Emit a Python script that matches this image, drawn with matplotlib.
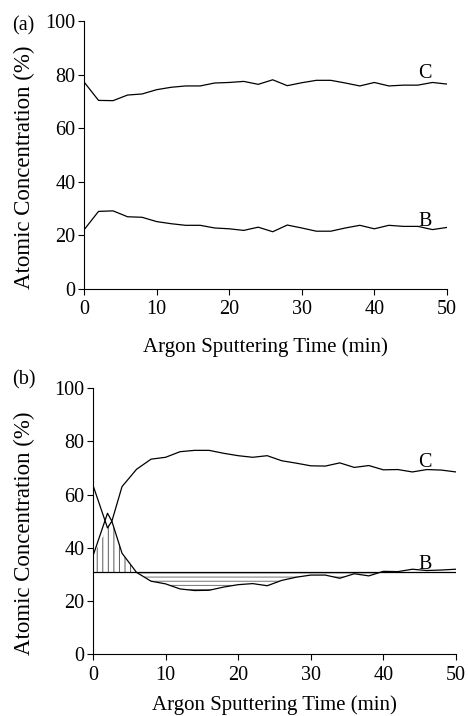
import numpy as np
import matplotlib.pyplot as plt

plt.rcParams['font.family'] = ['Liberation Serif', 'DejaVu Serif']
plt.rcParams['hatch.linewidth'] = 0.7

# (a) datos del panel superior
tiempo_a = [0, 2, 4, 6, 8, 10, 12, 14, 16, 18, 20, 22, 24, 26, 28, 30,
            32, 34, 36, 38, 40, 42, 44, 46, 48, 50]
c_a = [77.4, 70.5, 70.4, 72.5, 72.9, 74.5, 75.4, 75.9, 75.9, 77.0, 77.2, 77.6, 76.5,
       78.2, 76.0, 77.1, 78.0, 78.0, 77.0, 75.9, 77.2, 75.9, 76.2, 76.2, 77.2, 76.6]
b_a = [22.1, 29.0, 29.2, 27.0, 26.8, 25.2, 24.4, 23.8, 23.8, 22.8, 22.5, 21.9, 23.1,
       21.4, 23.9, 22.8, 21.6, 21.6, 22.8, 23.8, 22.5, 23.8, 23.4, 23.4, 22.2, 23.0]

# (b) datos del panel inferior
tiempo_b = [0, 2, 2.6, 4, 6, 8, 10, 12, 14, 16, 18, 20, 22, 24, 26, 28, 30,
            32, 34, 36, 38, 40, 42, 44, 46, 48, 50]
c_b = [37.0, 53.0, 50.0, 63.0, 69.5, 73.3, 74.0, 76.1, 76.6, 76.6, 75.5, 74.6, 74.0,
       74.6, 72.7, 71.8, 70.8, 70.7, 71.9, 70.2, 70.9, 69.3, 69.4, 68.5, 69.4, 69.2, 68.5]
b_b = [63.5, 47.5, 50.0, 38.0, 30.8, 27.5, 26.5, 24.6, 24.0, 24.1, 25.3, 26.2, 26.6,
       25.8, 27.8, 29.0, 29.8, 29.8, 28.6, 30.3, 29.5, 31.2, 31.1, 32.0, 31.5, 31.7, 32.0]
nivel_base = 30.8

xticks = [0, 10, 20, 30, 40, 50]
yticks = [0, 20, 40, 60, 80, 100]

fig = plt.figure(figsize=(4.68, 7.16), dpi=100)
ax1 = fig.add_axes([0.1795, 0.5964, 0.7755, 0.3736])
ax2 = fig.add_axes([0.1987, 0.0859, 0.7755, 0.3722])


def estilo(ax, ylab_x, pad_x):
    ax.set_xlim(0, 50)
    ax.set_ylim(0, 100)
    ax.set_xticks(xticks)
    ax.set_yticks(yticks)
    ax.spines['top'].set_visible(False)
    ax.spines['right'].set_visible(False)
    ax.tick_params(direction='out', length=4, width=0.8, labelsize=14.5, pad=2)
    ax.tick_params(axis='x', pad=4)
    ax.set_xlabel("Argon Sputtering Time (min)", fontsize=15, labelpad=pad_x)
    ax.set_ylabel("Atomic Concentration (%)", fontsize=16.5)
    ax.yaxis.set_label_coords(ylab_x, 0.455)


ax1.plot(tiempo_a, c_a, color='black', lw=0.9)
ax1.plot(tiempo_a, b_a, color='black', lw=0.9)
ax1.text(46, 79, "C", fontsize=14.5)
ax1.text(46.1, 23.6, "B", fontsize=14.5)
estilo(ax1, -0.135, 13)

xb = np.array(tiempo_b)
cb = np.array(c_b)
bb = np.array(b_b)
minimo = np.minimum(cb, bb)
ax2.fill_between(xb, nivel_base, minimo, where=(minimo > nivel_base) & (xb < 10),
                 interpolate=True, facecolor='none', edgecolor='0.35', hatch='|||', lw=0)
ax2.fill_between(xb, bb, nivel_base, where=(bb < nivel_base) & (xb < 41),
                 interpolate=True, facecolor='none', edgecolor='0.45', hatch='----', lw=0)
ax2.axhline(nivel_base, color='black', lw=0.9)
ax2.plot(xb, cb, color='black', lw=0.9)
ax2.plot(xb, bb, color='black', lw=0.9)
ax2.text(44.8, 70.4, "C", fontsize=14.5)
ax2.text(44.9, 32.1, "B", fontsize=14.5)
estilo(ax2, -0.16, 8)

fig.text(0.026, 0.958, "(a)", fontsize=14.5)
fig.text(0.026, 0.463, "(b)", fontsize=14.5)

fig.savefig("out.png", dpi=100)
